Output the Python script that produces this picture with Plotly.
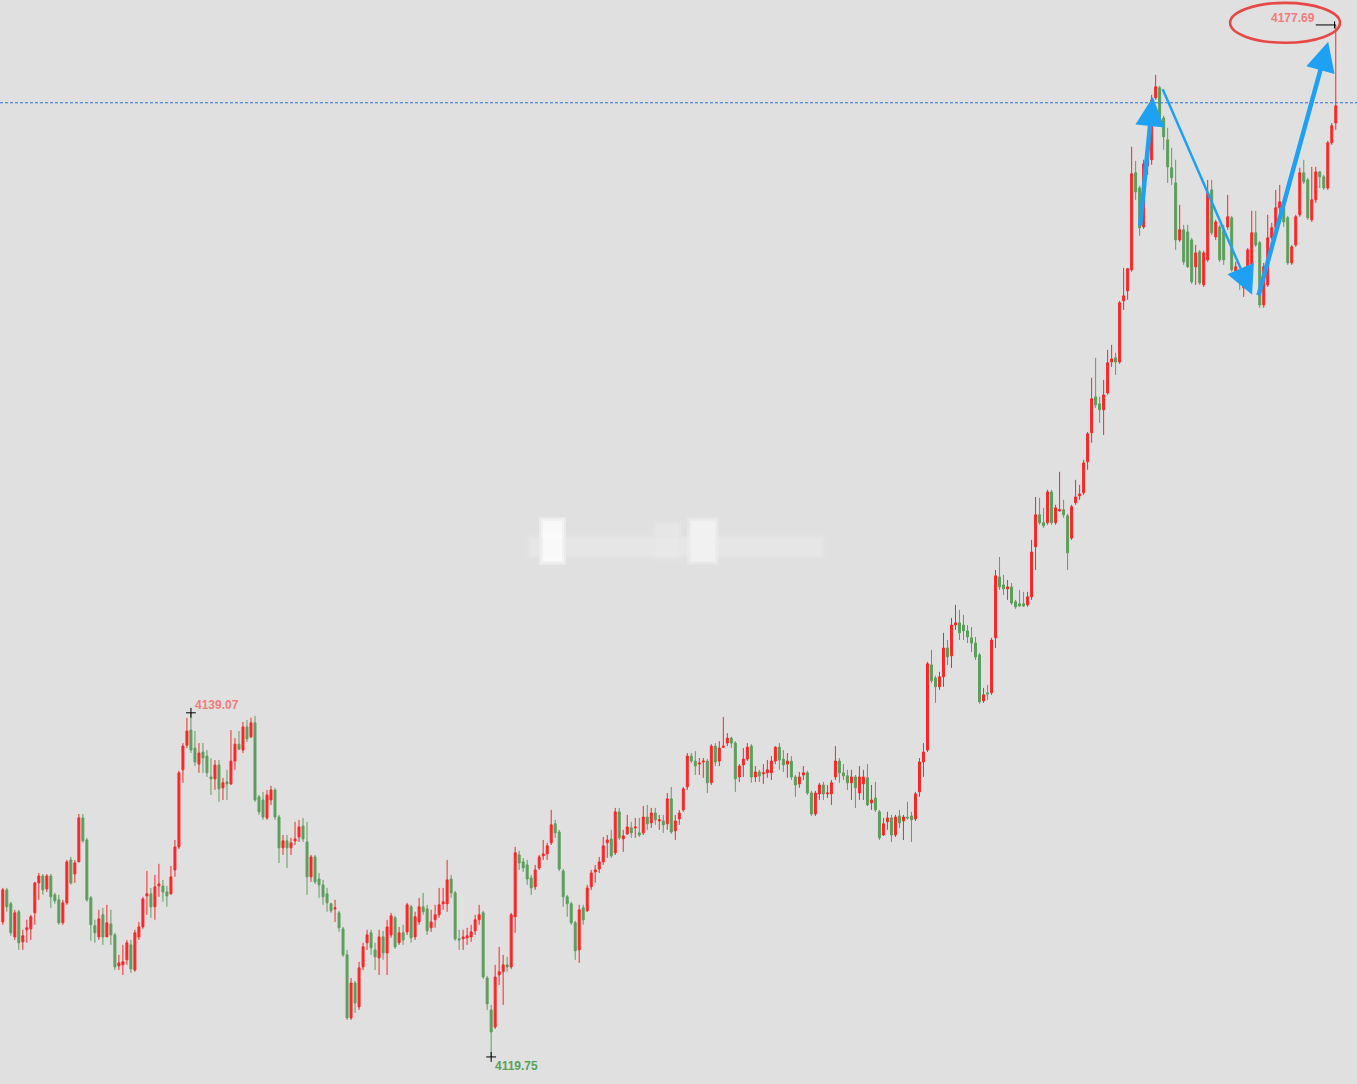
import plotly.graph_objects as go

# ---------------- data ----------------
opens = [
    4127.33, 4129.13, 4128.35, 4126.49, 4127.90, 4126.21, 4126.89, 4126.94, 4127.84, 4129.52,
    4129.91, 4129.18, 4129.91, 4128.85, 4128.57, 4127.28, 4128.40, 4130.81, 4130.02, 4130.70,
    4133.17, 4131.93, 4128.68, 4127.11, 4126.49, 4127.73, 4126.49, 4127.22, 4126.60, 4124.86,
    4124.92, 4125.20, 4126.04, 4124.63, 4126.49, 4127.05, 4128.79, 4128.91, 4128.18, 4129.35,
    4129.35, 4129.01, 4128.91, 4130.25, 4131.54, 4135.87, 4137.25, 4138.10, 4137.09, 4136.19,
    4136.87, 4136.64, 4135.47, 4135.36, 4136.14, 4134.86, 4135.19, 4135.08, 4136.36, 4137.31,
    4136.98, 4138.28, 4137.72, 4138.51, 4134.35, 4134.18, 4133.17, 4134.18, 4134.74, 4133.22,
    4131.49, 4131.88, 4131.49, 4131.88, 4132.10, 4132.72, 4131.82, 4129.86, 4130.98, 4129.74,
    4129.41, 4128.91, 4128.35, 4128.06, 4127.84, 4126.94, 4125.48, 4121.94, 4123.90, 4122.56,
    4124.80, 4126.16, 4126.72, 4125.76, 4125.31, 4126.49, 4125.59, 4126.60, 4127.56, 4126.16,
    4126.72, 4126.77, 4128.18, 4126.49, 4127.33, 4128.18, 4128.06, 4127.00, 4127.45, 4127.73,
    4128.35, 4128.35, 4129.74, 4128.96, 4126.38, 4126.38, 4126.44, 4126.49, 4126.83, 4127.45,
    4127.84, 4124.18, 4122.39, 4121.43, 4124.35, 4124.53, 4124.92, 4124.80, 4127.62, 4131.09,
    4130.70, 4130.53, 4129.80, 4129.30, 4130.36, 4131.04, 4131.15, 4131.77, 4132.84, 4132.38,
    4130.19, 4128.74, 4128.35, 4127.28, 4125.76, 4128.12, 4127.95, 4129.30, 4130.14, 4130.30,
    4130.70, 4131.77, 4131.99, 4131.21, 4133.51, 4131.99, 4132.27, 4132.61, 4132.61, 4132.33,
    4132.33, 4133.22, 4132.89, 4133.45, 4133.00, 4133.00, 4132.84, 4134.24, 4132.44, 4133.11,
    4133.62, 4134.91, 4136.64, 4136.36, 4136.19, 4136.31, 4136.36, 4135.14, 4137.20, 4136.36,
    4137.14, 4137.37, 4137.65, 4137.37, 4135.47, 4136.14, 4136.47, 4137.20, 4135.47, 4135.75,
    4135.64, 4135.70, 4135.70, 4136.36, 4137.14, 4136.47, 4136.19, 4136.36, 4135.47, 4135.08,
    4135.58, 4135.70, 4134.57, 4133.39, 4134.52, 4135.02, 4134.52, 4134.52, 4135.47, 4136.36,
    4135.70, 4135.53, 4135.14, 4135.47, 4134.57, 4135.08, 4135.42, 4134.01, 4134.29, 4133.51,
    4132.21, 4132.95, 4133.17, 4132.21, 4133.28, 4133.00, 4133.22, 4133.28, 4133.11, 4134.63,
    4136.31, 4136.98, 4141.76, 4141.03, 4140.53, 4141.09, 4142.71, 4142.27, 4144.00, 4144.12,
    4144.00, 4143.67, 4143.28, 4142.99, 4142.32, 4139.74, 4140.19, 4140.19, 4143.28, 4146.70,
    4146.25, 4146.03, 4146.14, 4145.30, 4145.19, 4145.19, 4145.13, 4145.58, 4148.39, 4150.19,
    4149.74, 4149.74, 4151.47, 4149.74, 4150.41, 4150.47, 4150.13, 4148.88, 4150.86, 4151.25,
    4151.42, 4153.16, 4154.79, 4156.81, 4156.42, 4156.08, 4157.03, 4158.77, 4159.00, 4158.77,
    4162.20, 4162.76, 4163.94, 4169.39, 4168.54, 4166.35, 4169.78, 4170.12, 4173.60, 4174.16,
    4172.47, 4171.24, 4169.67, 4168.82, 4165.62, 4166.19, 4166.07, 4165.62, 4164.11, 4164.95,
    4163.10, 4164.50, 4168.43, 4165.79, 4166.35, 4166.19, 4166.35, 4166.86, 4163.88, 4163.49,
    4162.93, 4164.11, 4164.11, 4166.02, 4165.46, 4161.97, 4163.10, 4165.74, 4166.30, 4167.42,
    4167.42, 4166.86, 4164.33, 4165.34, 4167.03, 4169.39, 4168.99, 4166.75, 4167.87, 4169.44,
    4169.16, 4168.54, 4171.07, 4172.19,
]

highs = [
    4129.24, 4129.24, 4128.46, 4128.01, 4128.01, 4126.89, 4127.45, 4127.73, 4129.58, 4130.08,
    4130.02, 4130.02, 4130.02, 4128.96, 4128.85, 4128.57, 4130.81, 4130.98, 4130.81, 4133.39,
    4133.39, 4132.05, 4128.79, 4127.45, 4128.01, 4128.12, 4128.29, 4128.01, 4126.72, 4125.48,
    4126.04, 4126.32, 4126.32, 4126.89, 4127.33, 4128.74, 4130.19, 4129.24, 4129.97, 4130.59,
    4129.69, 4129.35, 4130.47, 4131.93, 4135.81, 4137.37, 4138.79, 4139.07, 4138.05, 4137.37,
    4137.37, 4136.98, 4136.53, 4136.42, 4136.42, 4135.42, 4135.87, 4138.10, 4137.65, 4138.05,
    4138.56, 4138.67, 4138.79, 4138.90, 4134.46, 4134.63, 4134.74, 4134.97, 4134.86, 4133.34,
    4132.21, 4132.21, 4132.05, 4132.95, 4133.06, 4133.17, 4132.95, 4131.09, 4131.09, 4130.08,
    4129.69, 4129.24, 4128.40, 4128.57, 4127.95, 4127.05, 4125.76, 4124.18, 4124.01, 4125.09,
    4126.16, 4126.89, 4126.89, 4126.16, 4126.89, 4126.83, 4127.45, 4127.84, 4127.67, 4127.05,
    4127.17, 4128.40, 4128.29, 4127.90, 4128.68, 4128.96, 4128.29, 4128.01, 4128.29, 4129.24,
    4129.24, 4130.81, 4129.97, 4129.07, 4126.89, 4126.89, 4127.00, 4127.17, 4127.73, 4128.29,
    4127.95, 4124.30, 4122.67, 4124.92, 4125.93, 4125.48, 4125.37, 4127.84, 4131.54, 4131.32,
    4130.92, 4130.81, 4129.97, 4130.53, 4131.09, 4131.93, 4131.77, 4133.62, 4133.06, 4132.50,
    4130.30, 4128.85, 4128.46, 4127.39, 4128.29, 4128.29, 4129.41, 4130.25, 4130.53, 4130.98,
    4132.10, 4132.21, 4132.50, 4133.73, 4133.73, 4132.50, 4133.34, 4132.95, 4133.17, 4133.17,
    4133.84, 4133.90, 4133.73, 4133.73, 4133.34, 4133.34, 4134.57, 4134.91, 4133.34, 4133.62,
    4134.91, 4136.81, 4136.81, 4136.92, 4136.53, 4136.53, 4136.47, 4137.31, 4137.37, 4137.48,
    4138.84, 4137.93, 4137.72, 4137.48, 4136.19, 4137.09, 4137.37, 4137.31, 4136.08, 4135.87,
    4136.19, 4136.42, 4136.64, 4137.20, 4137.37, 4136.98, 4136.81, 4136.64, 4135.58, 4135.75,
    4136.08, 4135.81, 4134.69, 4134.69, 4135.14, 4135.19, 4135.02, 4135.30, 4137.20, 4136.53,
    4136.19, 4135.87, 4135.87, 4135.58, 4136.08, 4135.87, 4136.19, 4135.02, 4135.19, 4133.62,
    4133.17, 4133.51, 4133.34, 4133.34, 4133.62, 4133.34, 4134.07, 4133.51, 4134.63, 4136.53,
    4137.37, 4141.93, 4142.60, 4141.15, 4141.37, 4143.56, 4143.16, 4144.40, 4145.13, 4144.85,
    4144.57, 4144.00, 4143.89, 4143.33, 4142.43, 4140.47, 4140.64, 4143.28, 4147.09, 4147.82,
    4146.81, 4146.53, 4146.36, 4145.41, 4145.97, 4145.86, 4145.86, 4148.78, 4151.19, 4151.14,
    4150.58, 4151.59, 4151.59, 4150.75, 4152.60, 4151.03, 4150.24, 4150.75, 4152.15, 4151.87,
    4153.27, 4154.84, 4157.88, 4159.00, 4156.81, 4157.76, 4159.45, 4159.73, 4159.28, 4162.20,
    4164.05, 4164.05, 4170.85, 4170.06, 4168.66, 4170.12, 4170.68, 4173.77, 4174.89, 4174.27,
    4172.59, 4171.91, 4170.79, 4170.12, 4167.59, 4166.47, 4166.47, 4165.74, 4165.34, 4165.06,
    4165.01, 4168.99, 4168.99, 4166.75, 4166.47, 4166.47, 4168.15, 4166.97, 4164.39, 4163.77,
    4163.38, 4165.17, 4167.25, 4167.25, 4165.57, 4164.33, 4167.03, 4166.58, 4168.43, 4168.71,
    4167.48, 4166.97, 4165.34, 4167.03, 4169.67, 4170.12, 4169.11, 4169.72, 4169.72, 4169.50,
    4169.27, 4171.18, 4172.19, 4177.69,
]

lows = [
    4127.17, 4127.90, 4126.55, 4126.32, 4125.76, 4125.76, 4126.16, 4126.32, 4127.17, 4128.57,
    4128.85, 4129.01, 4128.12, 4128.35, 4127.17, 4127.17, 4128.29, 4129.41, 4129.52, 4130.70,
    4131.77, 4128.46, 4126.27, 4126.16, 4126.32, 4126.04, 4126.49, 4126.04, 4124.63, 4124.63,
    4124.35, 4124.92, 4124.47, 4124.53, 4126.32, 4126.94, 4127.73, 4127.56, 4127.45, 4128.74,
    4128.46, 4128.18, 4128.85, 4129.86, 4131.43, 4135.14, 4137.09, 4136.81, 4136.08, 4135.70,
    4135.70, 4135.47, 4134.46, 4134.74, 4134.07, 4134.18, 4134.18, 4135.02, 4135.87, 4136.98,
    4136.81, 4137.44, 4137.65, 4134.07, 4133.34, 4133.06, 4133.06, 4133.90, 4133.06, 4130.64,
    4131.09, 4130.36, 4131.09, 4131.65, 4131.82, 4131.82, 4128.85, 4129.58, 4129.46, 4128.68,
    4128.29, 4127.90, 4127.84, 4127.33, 4126.77, 4125.37, 4121.83, 4121.83, 4122.22, 4122.39,
    4124.63, 4125.76, 4125.48, 4124.63, 4124.35, 4125.20, 4124.35, 4126.44, 4125.82, 4126.04,
    4126.04, 4126.60, 4126.16, 4126.32, 4127.17, 4127.73, 4126.60, 4126.77, 4127.00, 4127.56,
    4128.01, 4127.90, 4128.68, 4126.27, 4125.76, 4125.76, 4126.04, 4126.21, 4126.60, 4127.17,
    4124.13, 4122.39, 4119.75, 4121.32, 4123.79, 4122.67, 4124.53, 4124.69, 4126.72, 4130.25,
    4130.14, 4129.41, 4128.85, 4129.13, 4130.25, 4130.81, 4130.81, 4131.65, 4132.05, 4130.19,
    4128.18, 4127.62, 4127.17, 4125.20, 4125.03, 4127.17, 4127.90, 4129.13, 4129.52, 4130.08,
    4130.53, 4130.92, 4130.92, 4131.09, 4131.93, 4131.26, 4132.21, 4132.05, 4132.05, 4132.10,
    4132.21, 4132.50, 4132.61, 4132.78, 4132.50, 4132.33, 4132.50, 4132.27, 4131.93, 4132.78,
    4133.51, 4134.74, 4136.25, 4135.58, 4135.58, 4135.42, 4134.57, 4135.02, 4136.08, 4136.08,
    4137.09, 4137.20, 4137.09, 4134.63, 4135.19, 4135.47, 4136.36, 4135.14, 4135.19, 4135.19,
    4135.08, 4135.42, 4135.30, 4136.19, 4135.87, 4135.75, 4135.42, 4135.30, 4134.35, 4134.86,
    4135.30, 4134.46, 4133.28, 4133.28, 4134.18, 4134.18, 4134.29, 4133.90, 4135.30, 4135.14,
    4135.30, 4134.74, 4134.18, 4133.73, 4134.18, 4134.18, 4133.84, 4133.62, 4133.51, 4131.93,
    4132.16, 4132.50, 4131.82, 4132.10, 4132.61, 4131.93, 4133.06, 4131.82, 4133.00, 4134.35,
    4135.47, 4136.87, 4140.75, 4139.63, 4140.36, 4140.53, 4141.76, 4141.59, 4143.73, 4143.16,
    4143.16, 4142.99, 4142.49, 4142.04, 4139.58, 4139.63, 4139.80, 4140.08, 4142.71, 4145.97,
    4145.69, 4145.41, 4145.13, 4144.91, 4145.02, 4145.02, 4145.02, 4145.41, 4147.09, 4149.63,
    4149.46, 4149.63, 4149.63, 4149.63, 4150.35, 4150.02, 4147.09, 4148.77, 4150.75, 4151.03,
    4151.31, 4152.71, 4154.23, 4156.19, 4155.35, 4154.67, 4156.92, 4158.49, 4158.04, 4158.66,
    4161.69, 4162.26, 4163.83, 4167.87, 4165.85, 4166.24, 4169.27, 4169.84, 4173.49, 4172.42,
    4170.68, 4168.82, 4168.71, 4165.06, 4165.51, 4164.22, 4164.05, 4163.15, 4163.10, 4163.10,
    4162.98, 4164.39, 4165.91, 4165.62, 4164.39, 4164.22, 4166.19, 4163.83, 4163.66, 4162.82,
    4162.42, 4162.98, 4164.00, 4165.23, 4161.81, 4161.81, 4162.98, 4165.62, 4166.19, 4167.14,
    4166.35, 4164.22, 4164.22, 4165.23, 4166.92, 4168.77, 4166.75, 4166.63, 4167.70, 4168.54,
    4168.43, 4168.43, 4170.96, 4171.80,
]

closes = [
    4129.13, 4128.18, 4126.72, 4127.84, 4126.16, 4126.55, 4127.00, 4127.62, 4129.52, 4129.91,
    4129.13, 4129.91, 4128.74, 4128.51, 4127.28, 4128.40, 4130.70, 4129.52, 4130.64, 4133.17,
    4131.88, 4128.57, 4127.17, 4126.72, 4127.50, 4126.49, 4127.28, 4126.60, 4124.80, 4125.03,
    4125.09, 4126.16, 4124.69, 4126.72, 4127.05, 4128.62, 4128.91, 4128.18, 4129.30, 4129.46,
    4129.01, 4128.79, 4129.86, 4131.54, 4135.70, 4137.20, 4138.05, 4136.98, 4136.31, 4136.81,
    4136.53, 4135.70, 4135.36, 4136.14, 4134.80, 4135.14, 4135.08, 4136.36, 4137.31, 4137.03,
    4138.28, 4137.61, 4138.51, 4134.18, 4133.51, 4133.22, 4134.46, 4134.74, 4133.22, 4131.49,
    4131.88, 4131.49, 4131.77, 4131.99, 4132.66, 4131.99, 4129.86, 4130.98, 4129.58, 4129.41,
    4128.74, 4128.40, 4127.95, 4128.12, 4127.00, 4125.48, 4121.94, 4123.90, 4122.78, 4124.75,
    4125.93, 4126.60, 4125.88, 4125.37, 4126.49, 4125.59, 4127.05, 4127.67, 4125.93, 4126.72,
    4126.32, 4128.29, 4126.44, 4127.62, 4128.18, 4127.90, 4126.83, 4127.33, 4127.73, 4128.29,
    4128.46, 4129.69, 4128.96, 4126.38, 4126.32, 4126.49, 4126.55, 4126.77, 4127.45, 4127.73,
    4124.24, 4122.73, 4121.15, 4124.24, 4124.53, 4124.92, 4124.80, 4127.73, 4131.21, 4130.64,
    4130.36, 4129.74, 4129.24, 4130.25, 4130.98, 4131.15, 4131.60, 4132.78, 4132.33, 4130.30,
    4128.74, 4128.35, 4127.28, 4125.71, 4128.01, 4127.45, 4129.24, 4130.08, 4130.25, 4130.70,
    4131.60, 4131.93, 4131.04, 4133.51, 4132.05, 4132.16, 4132.66, 4132.33, 4132.66, 4132.21,
    4133.22, 4132.84, 4133.45, 4133.06, 4133.06, 4132.78, 4134.24, 4132.38, 4133.00, 4133.45,
    4134.80, 4136.64, 4136.36, 4136.08, 4136.25, 4136.36, 4135.14, 4137.20, 4136.31, 4137.09,
    4137.20, 4137.65, 4137.37, 4135.36, 4136.08, 4136.47, 4137.14, 4135.47, 4135.75, 4135.53,
    4135.70, 4135.87, 4136.36, 4137.14, 4136.42, 4136.14, 4136.36, 4135.47, 4135.02, 4135.47,
    4135.70, 4134.57, 4133.39, 4134.57, 4135.02, 4134.52, 4134.57, 4135.14, 4136.36, 4135.70,
    4135.53, 4135.14, 4135.47, 4134.86, 4135.47, 4135.47, 4133.90, 4134.18, 4133.62, 4132.05,
    4132.84, 4133.17, 4132.21, 4133.22, 4132.89, 4133.22, 4133.17, 4133.06, 4134.52, 4136.31,
    4136.87, 4141.82, 4140.87, 4140.53, 4141.09, 4142.71, 4142.21, 4144.00, 4144.12, 4143.56,
    4143.67, 4143.33, 4142.99, 4142.21, 4139.69, 4140.08, 4140.13, 4143.16, 4146.76, 4146.14,
    4146.03, 4146.14, 4145.24, 4145.02, 4145.07, 4145.07, 4145.58, 4148.10, 4150.19, 4149.74,
    4149.57, 4151.47, 4149.74, 4150.58, 4150.47, 4150.19, 4148.05, 4150.64, 4151.19, 4151.36,
    4153.10, 4154.73, 4156.70, 4156.36, 4156.08, 4156.92, 4158.72, 4158.94, 4158.77, 4162.09,
    4162.48, 4164.00, 4169.33, 4168.32, 4166.30, 4169.89, 4170.40, 4173.49, 4174.22, 4172.53,
    4171.41, 4169.72, 4169.11, 4165.62, 4166.19, 4164.39, 4164.11, 4163.27, 4164.89, 4163.21,
    4164.89, 4168.26, 4166.02, 4166.63, 4164.50, 4164.50, 4166.92, 4163.94, 4164.11, 4163.21,
    4163.21, 4165.06, 4166.02, 4165.34, 4161.97, 4164.11, 4165.74, 4166.30, 4167.42, 4167.76,
    4166.63, 4164.33, 4165.23, 4166.92, 4169.39, 4168.88, 4166.86, 4167.87, 4169.44, 4169.16,
    4168.54, 4171.07, 4172.03, 4173.15,
]

bar_index = list(range(len(closes)))
ref_price = 4173.32          # blue dashed horizontal price line

# annotation arrows (tail -> head), in bar index / price units
arrow_tails_x = [284.1, 289.6, 313.6]
arrow_tails_y = [4166.35, 4174.16, 4162.42]
arrow_heads_x = [287.3, 312.1, 331.1]
arrow_heads_y = [4173.65, 4162.54, 4176.74]
arrow_widths = [4.5, 2.5, 4.5]
arrow_sizes = [1.3, 2.3, 1.3]

# ---------------- styles ----------------
BG = "#e0e0e0"
RED = "#ff2424"
GREEN = "#5c9e5c"
LABEL_RED = "#f07c7c"
LABEL_GREEN = "#5aa05a"
BLUE = "#1ea1f2"
FONT = "Liberation Sans, Arial, sans-serif"

n = len(closes)
i_local_hi = max(range(0, 120), key=lambda i: highs[i])
i_lo = min(range(n), key=lambda i: lows[i])
i_hi = max(range(n), key=lambda i: highs[i])

fig = go.Figure()
fig.add_trace(go.Candlestick(
    x=bar_index, open=opens, high=highs, low=lows, close=closes,
    increasing=dict(line=dict(color=RED, width=1), fillcolor=RED),
    decreasing=dict(line=dict(color=GREEN, width=1), fillcolor=GREEN),
    whiskerwidth=0, showlegend=False, hoverinfo="skip",
))

# black cross markers at the extremes
fig.add_trace(go.Scatter(
    x=[i_local_hi, i_lo], y=[highs[i_local_hi], lows[i_lo]],
    mode="markers", showlegend=False, hoverinfo="skip",
    marker=dict(symbol="cross-thin", size=7, line=dict(color="black", width=1)),
))

# faint blurred watermark in the centre of the canvas (paper coordinates)
W, H = 1357.0, 1084.0
def px_rect(x0, y0, x1, y1, color, opacity):
    return dict(type="rect", xref="paper", yref="paper", layer="below",
                x0=x0 / W, x1=x1 / W, y0=1 - y1 / H, y1=1 - y0 / H,
                fillcolor=color, opacity=opacity, line=dict(width=0))

shapes = []
# soft (layered) blobs to imitate the blurred logo
for grow, op in [(4, 0.18), (2, 0.25), (0, 0.4)]:
    shapes.append(px_rect(530 - grow, 538 - grow, 822 + grow, 556 + grow, "#ececec", op * 0.8))
    shapes.append(px_rect(543 - grow, 521 - grow, 562 + grow, 561 + grow, "#ffffff", op + 0.15))
    shapes.append(px_rect(691 - grow, 521 - grow, 715 + grow, 561 + grow, "#f8f8f8", op + 0.05))
    shapes.append(px_rect(656 - grow, 524 - grow, 679 + grow, 558 + grow, "#ececec", op * 0.8))

shapes += [
    dict(type="line", xref="paper", x0=0, x1=1, yref="y", y0=ref_price, y1=ref_price,
         line=dict(color="#2f6fd6", width=1, dash="3px,2px")),
    dict(type="line", xref="x", x0=i_hi - 5.0, x1=i_hi, yref="y",
         y0=highs[i_hi], y1=highs[i_hi], line=dict(color="black", width=1)),
    dict(type="line", xref="x", x0=i_hi - 0.3, x1=i_hi - 0.3, yref="y",
         y0=highs[i_hi] - 0.2, y1=highs[i_hi] + 0.2, line=dict(color="black", width=1)),
    dict(type="circle", xref="x", yref="y", x0=306.6, x1=334.05,
         y0=4176.69, y1=4178.93, line=dict(color="#e64848", width=2.6)),
]

annotations = [
    dict(x=i_local_hi, y=highs[i_local_hi], xref="x", yref="y", text=f"<b>{highs[i_local_hi]:.2f}</b>",
         showarrow=False, xanchor="left", yanchor="middle", xshift=2, yshift=8,
         font=dict(family=FONT, size=12, color=LABEL_RED)),
    dict(x=i_lo, y=lows[i_lo], xref="x", yref="y", text=f"<b>{lows[i_lo]:.2f}</b>",
         showarrow=False, xanchor="left", yanchor="middle", xshift=2, yshift=-9,
         font=dict(family=FONT, size=12, color=LABEL_GREEN)),
    dict(x=i_hi, y=highs[i_hi], xref="x", yref="y", text=f"<b>{highs[i_hi]:.2f}</b>",
         showarrow=False, xanchor="right", yanchor="middle", xshift=-19, yshift=7,
         font=dict(family=FONT, size=12, color=LABEL_RED)),
]
for tx, ty, hx, hy, w, s in zip(arrow_tails_x, arrow_tails_y, arrow_heads_x, arrow_heads_y,
                                 arrow_widths, arrow_sizes):
    annotations.append(dict(
        x=hx, y=hy, ax=tx, ay=ty, xref="x", yref="y", axref="x", ayref="y",
        text="", showarrow=True, arrowhead=2, arrowsize=s, arrowwidth=w,
        arrowcolor=BLUE, standoff=0, startstandoff=0,
    ))

fig.update_layout(
    width=1357, height=1084,
    margin=dict(l=0, r=0, t=0, b=0),
    paper_bgcolor=BG, plot_bgcolor=BG,
    boxgap=0.3,
    shapes=shapes, annotations=annotations,
    xaxis=dict(range=[-0.7, 338.3], visible=False, showgrid=False, zeroline=False,
               rangeslider=dict(visible=False), fixedrange=True),
    yaxis=dict(range=[4118.23, 4179.09], visible=False, showgrid=False, zeroline=False,
               fixedrange=True),
)

fig.write_html("out.html")
